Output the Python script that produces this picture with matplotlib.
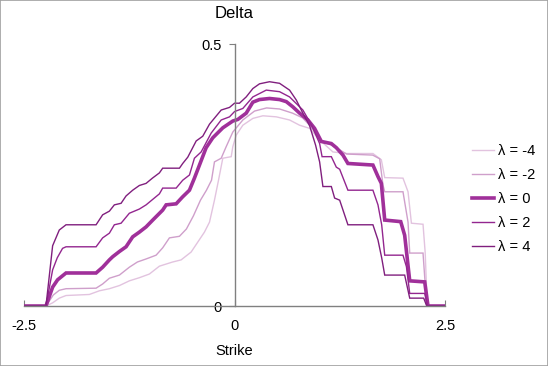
import matplotlib.pyplot as plt
from matplotlib.patches import Rectangle

plt.rcParams['font.family'] = ['Liberation Sans', 'DejaVu Sans']

# strike grid and delta values, one pair per lambda
x_m4 = [-2.5, -2.239, -2.16, -2.081, -2.001, -1.724, -1.605, -1.486, -1.367, -1.249, -1.13, -1.011,
        -0.892, -0.734, -0.634, -0.515, -0.436, -0.357, -0.297, -0.238, -0.19, -0.139, -0.039, -0.02,
        0.02, 0.099, 0.218, 0.337, 0.496, 0.654, 0.773, 0.892, 1.011, 1.169, 1.328, 1.644, 1.744,
        1.784, 2.001, 2.061, 2.101, 2.239, 2.265, 2.289, 2.5]
d_m4 = [0, 0, 0.006, 0.015, 0.02, 0.022, 0.029, 0.033, 0.039, 0.048, 0.054, 0.061,
        0.076, 0.084, 0.088, 0.103, 0.122, 0.141, 0.16, 0.202, 0.24, 0.282, 0.285, 0.304,
        0.326, 0.345, 0.358, 0.363, 0.361, 0.355, 0.345, 0.339, 0.317, 0.294, 0.291, 0.291, 0.279,
        0.245, 0.244, 0.218, 0.158, 0.156, 0.101, 0, 0]

x_m2 = [-2.5, -2.239, -2.152, -2.081, -2.001, -1.644, -1.566, -1.486, -1.367, -1.249, -1.153, -1.046,
        -0.931, -0.853, -0.773, -0.654, -0.571, -0.488, -0.404, -0.333, -0.273, -0.238, -0.158, -0.099,
        -0.02, 0.099, 0.238, 0.381, 0.535, 0.69, 0.809, 0.892, 0.987, 1.046, 1.153, 1.249, 1.332,
        1.641, 1.724, 1.763, 1.784, 2.001, 2.061, 2.081, 2.239, 2.283, 2.5]
d_m2 = [0, 0, 0.021, 0.03, 0.033, 0.034, 0.042, 0.053, 0.059, 0.074, 0.084, 0.09,
        0.097, 0.111, 0.13, 0.133, 0.147, 0.172, 0.202, 0.221, 0.24, 0.275, 0.282, 0.304,
        0.332, 0.355, 0.372, 0.378, 0.376, 0.368, 0.359, 0.345, 0.324, 0.313, 0.307, 0.298, 0.29,
        0.288, 0.281, 0.231, 0.218, 0.218, 0.16, 0.101, 0.101, 0, 0]

x_0 = [-2.5, -2.239, -2.16, -2.101, -2.001, -1.644, -1.566, -1.486, -1.447, -1.367, -1.288, -1.209,
       -1.13, -1.05, -0.971, -0.853, -0.812, -0.693, -0.618, -0.535, -0.476, -0.416, -0.337, -0.258,
       -0.139, -0.02, 0.039, 0.139, 0.218, 0.297, 0.416, 0.535, 0.615, 0.693, 0.773, 0.872, 0.951,
       1.031, 1.15, 1.21, 1.288, 1.347, 1.644, 1.704, 1.744, 1.784, 1.974, 2.021, 2.081, 2.259, 2.298, 2.5]
d_0 = [0, 0, 0.036, 0.05, 0.063, 0.063, 0.074, 0.088, 0.094, 0.104, 0.113, 0.132,
       0.141, 0.151, 0.164, 0.183, 0.193, 0.195, 0.208, 0.221, 0.244, 0.269, 0.302, 0.321,
       0.34, 0.353, 0.356, 0.368, 0.389, 0.394, 0.396, 0.394, 0.39, 0.38, 0.368, 0.355, 0.339,
       0.314, 0.31, 0.302, 0.288, 0.272, 0.269, 0.247, 0.234, 0.164, 0.161, 0.135, 0.048, 0.046, 0, 0]

x_p2 = [-2.5, -2.239, -2.16, -2.105, -2.042, -2.001, -1.644, -1.566, -1.486, -1.427, -1.347, -1.249,
        -1.13, -1.05, -0.892, -0.853, -0.693, -0.615, -0.535, -0.476, -0.396, -0.277, -0.158, -0.059,
        0.0, 0.099, 0.218, 0.377, 0.535, 0.654, 0.812, 0.916, 1.011, 1.04, 1.15, 1.209, 1.249,
        1.347, 1.644, 1.704, 1.748, 1.784, 2.001, 2.042, 2.081, 2.259, 2.295, 2.5]
d_p2 = [0, 0, 0.069, 0.092, 0.11, 0.113, 0.113, 0.13, 0.139, 0.155, 0.158, 0.177,
        0.185, 0.193, 0.214, 0.225, 0.225, 0.24, 0.25, 0.282, 0.294, 0.33, 0.355, 0.361,
        0.371, 0.377, 0.399, 0.412, 0.409, 0.399, 0.374, 0.345, 0.31, 0.285, 0.285, 0.265, 0.261,
        0.221, 0.221, 0.193, 0.155, 0.097, 0.097, 0.075, 0.024, 0.024, 0, 0]

x_p4 = [-2.5, -2.239, -2.16, -2.081, -2.001, -1.644, -1.566, -1.486, -1.427, -1.347, -1.288, -1.209,
        -1.13, -1.05, -0.975, -0.892, -0.853, -0.654, -0.615, -0.555, -0.455, -0.377, -0.297, -0.158,
        -0.059, 0.0, 0.059, 0.139, 0.218, 0.297, 0.416, 0.535, 0.654, 0.734, 0.812, 0.892, 0.963,
        1.011, 1.05, 1.15, 1.189, 1.249, 1.347, 1.644, 1.704, 1.748, 1.784, 2.021, 2.081, 2.247, 2.283, 2.5]
d_p4 = [0, 0, 0.115, 0.145, 0.155, 0.155, 0.174, 0.181, 0.193, 0.196, 0.21, 0.221,
        0.23, 0.234, 0.244, 0.254, 0.263, 0.263, 0.272, 0.284, 0.315, 0.324, 0.347, 0.374,
        0.379, 0.387, 0.387, 0.399, 0.415, 0.424, 0.428, 0.425, 0.412, 0.393, 0.368, 0.344, 0.307,
        0.275, 0.228, 0.228, 0.206, 0.202, 0.155, 0.155, 0.126, 0.092, 0.059, 0.059, 0.015, 0.015, 0, 0]

labels = ['λ = -4', 'λ = -2', 'λ = 0', 'λ = 2', 'λ = 4']
colors = ['#e2c3df', '#cf9fcb', '#a0309a', '#93268f', '#801f7e']
widths = [1.0, 1.0, 2.6, 1.0, 1.0]

fig = plt.figure(figsize=(5.48, 3.66), dpi=100)
ax = fig.add_axes([24 / 548, 1 - 306 / 366, 421 / 548, 262 / 366])

series = [(x_m4, d_m4), (x_m2, d_m2), (x_0, d_0), (x_p2, d_p2), (x_p4, d_p4)]
for (xs, ys), lab, c, w in zip(series, labels, colors, widths):
    ax.plot(xs, ys, color=c, lw=w, label=lab, solid_joinstyle='miter')

ax.set_xlim(-2.5, 2.5)
ax.set_ylim(0, 0.5)
for side in ['top', 'right']:
    ax.spines[side].set_visible(False)
ax.spines['left'].set_position(('data', 0))
ax.spines['bottom'].set_position(('data', 0))
for side in ['left', 'bottom']:
    ax.spines[side].set_color('#808080')
    ax.spines[side].set_linewidth(1.0)

ax.set_xticks([-2.5, 0, 2.5])
ax.set_xticklabels(['-2.5', '0', '2.5'])
ax.set_yticks([0, 0.5])
ax.set_yticklabels(['0', '0.5'])
ax.tick_params(axis='x', direction='in', length=4, pad=9, color='#808080', labelsize=10.5)
ax.tick_params(axis='y', direction='out', length=4, pad=5, color='#808080', labelsize=10.5)

ax.set_xlabel('Strike', fontsize=10.5, labelpad=8)
ax.set_title('Delta', fontsize=12, pad=19)

ax.legend(loc='center left', bbox_to_anchor=(472 / 548, 1 - 199 / 366),
          bbox_transform=fig.transFigure, frameon=False, fontsize=10.5,
          handlelength=1.5, handletextpad=0.3, labelspacing=0.68,
          borderpad=0, borderaxespad=0)

fig.patches.append(Rectangle((0, 0), 1, 1, transform=fig.transFigure, fill=False,
                             edgecolor='#a0a0a0', linewidth=1.2))

fig.savefig('out.png', dpi=100)
